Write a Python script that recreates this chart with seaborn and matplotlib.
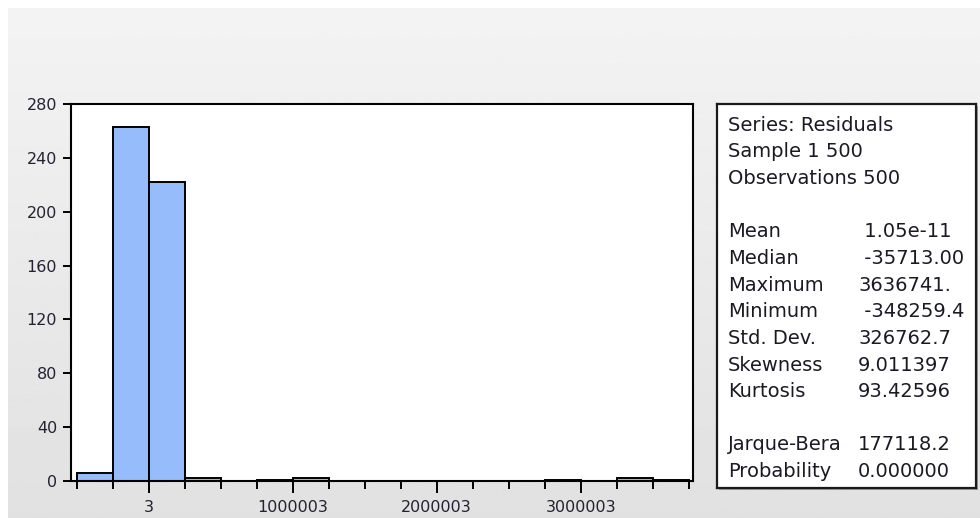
import numpy as np
import pandas as pd
import matplotlib
matplotlib.use("Agg")
import matplotlib.pyplot as plt
import seaborn as sns

# ---- data ----
bin_start = -499997          # left edge of first bin (3 - 500000)
bin_width = 250000
counts = [6, 263, 222, 2, 0, 1, 2, 0, 0, 0, 0, 0, 0, 1, 0, 2, 1]
xtick_values = [3, 1000003, 2000003, 3000003]
xtick_labels = ["3", "1000003", "2000003", "3000003"]
ytick_values = [0, 40, 80, 120, 160, 200, 240, 280]

stat_header = ["Series: Residuals", "Sample 1 500", "Observations 500"]
stat_names = ["Mean", "Median", "Maximum", "Minimum", "Std. Dev.", "Skewness", "Kurtosis"]
stat_values = [" 1.05e-11", " -35713.00", "3636741.", " -348259.4", "326762.7", "9.011397", "93.42596"]
test_names = ["Jarque-Bera", "Probability"]
test_values = ["177118.2", "0.000000"]

edges = [float(bin_start + bin_width * k) for k in range(len(counts) + 1)]
centers = [(edges[k] + edges[k + 1]) / 2 for k in range(len(counts))]
df = pd.DataFrame({"resid": centers, "n": counts})

sns.set_style("white")
plt.rcParams["font.family"] = ["DejaVu Sans"]

W, H = 980, 518
fig = plt.figure(figsize=(W / 100, H / 100), dpi=100)

# background: white margin + light gray gradient
bg = fig.add_axes([0, 0, 1, 1])
bg.set_xlim(0, W)
bg.set_ylim(H, 0)
bg.axis("off")
bg.add_patch(plt.Rectangle((0, 0), W, H, color="white", zorder=0))
grad = np.linspace(0.953, 0.882, 256).reshape(-1, 1)
bg.imshow(grad, cmap="gray", vmin=0, vmax=1, extent=[8, W, H, 8], aspect="auto", zorder=1)

# ---- histogram axes ----
L, R, T, B = 71, 693, 104, 481
ax = fig.add_axes([L / W, 1 - B / H, (R - L) / W, (B - T) / H])
ax.set_facecolor("white")
sns.histplot(data=df, x="resid", weights="n", bins=edges, ax=ax,
             color="#97bcfc", edgecolor="black", linewidth=1.4, alpha=1)
ax.set_xlim(-539600, 3780000)
ax.set_ylim(0, 280)
ax.set_xlabel("")
ax.set_ylabel("")
for s in ax.spines.values():
    s.set_color("black")
    s.set_linewidth(1.5)
    s.set_visible(True)

ax.set_yticks(ytick_values)
ax.set_yticklabels([str(v) for v in ytick_values])
ax.set_xticks(xtick_values)
ax.set_xticklabels(xtick_labels)
minor = [e for e in edges if e not in xtick_values]
ax.set_xticks(minor, minor=True)
ax.tick_params(axis="y", which="major", direction="out", length=6, width=1.4,
               color="black", labelsize=11.5, labelcolor="#222233", pad=4, left=True)
ax.tick_params(axis="x", which="major", direction="out", length=8.5, width=1.4,
               color="black", labelsize=11.5, labelcolor="#222233", pad=5, bottom=True)
ax.tick_params(axis="x", which="minor", direction="out", length=5.5, width=1.4,
               color="black", bottom=True)

# ---- statistics box ----
bx0, bx1, by0, by1 = 717, 976, 104, 488
bg.add_patch(plt.Rectangle((bx0 + 2, by0 + 2), bx1 - bx0, by1 - by0,
                           facecolor="#9a9a9a", edgecolor="none", zorder=2))
bax = fig.add_axes([bx0 / W, 1 - by1 / H, (bx1 - bx0) / W, (by1 - by0) / H])
bax.set_xlim(bx0, bx1)
bax.set_ylim(by1, by0)
bax.set_xticks([])
bax.set_yticks([])
bax.set_facecolor("white")
for s in bax.spines.values():
    s.set_color("#1a1a1a")
    s.set_linewidth(1.6)

txt = dict(fontsize=14, color="#1a1a24", va="baseline", ha="left")
x_name, x_val = 728, 858
base, step = 130.7, 26.65
for i, s in enumerate(stat_header):
    bax.text(x_name, base + step * i, s, **txt)
for i, (n, v) in enumerate(zip(stat_names, stat_values)):
    y = base + step * (i + 4)
    bax.text(x_name, y, n, **txt)
    bax.text(x_val, y, v, **txt)
for i, (n, v) in enumerate(zip(test_names, test_values)):
    y = base + step * (i + 12)
    bax.text(x_name, y, n, **txt)
    bax.text(x_val, y, v, **txt)

fig.savefig("out.png", dpi=100)
